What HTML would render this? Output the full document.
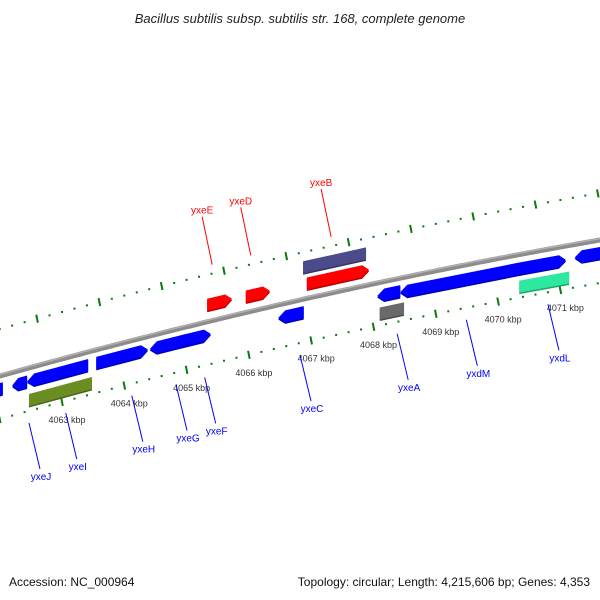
<!DOCTYPE html>
<html><head><meta charset="utf-8"><style>
html,body{margin:0;padding:0;background:#fff;}
svg{display:block;font-family:"Liberation Sans","DejaVu Sans",sans-serif;}
</style></head><body>
<svg id="map" width="600" height="600" viewBox="0 0 600 600" xmlns="http://www.w3.org/2000/svg">
<text x="300" y="23" text-anchor="middle" font-size="13" font-style="italic" fill="#222">Bacillus subtilis subsp. subtilis str. 168, complete genome</text>
<text x="9" y="586" font-size="12" fill="#111">Accession: NC_000964</text>
<text x="590" y="586" text-anchor="end" font-size="12" fill="#111">Topology: circular; Length: 4,215,606 bp; Genes: 4,353</text>
<g id="ticks"></g><g id="backbone"></g><g id="genes"></g><g id="labels"></g>
</svg>
<script>
const kbpTicks = [4062, 4063, 4064, 4065, 4066, 4067, 4068, 4069, 4070, 4071, 4072];
const kbpLabels = ["4062 kbp","4063 kbp","4064 kbp","4065 kbp","4066 kbp","4067 kbp","4068 kbp","4069 kbp","4070 kbp","4071 kbp","4072 kbp"];
const geneNames = ["yxeJ-part","yxeJ","yxeI","yxeH","yxeG","yxeF","yxeE","yxeD","yxeC","yxeB","yxeA","yxdM","yxdL","yxdK","yxdJ","misc1","misc2","misc3","misc4"];
const geneStart = [4061.9,4062.20,4062.44,4063.55,4064.41,4064.94,4065.33,4065.95,4066.47,4066.93,4068.06,4068.43,4070.32,4071.23,4071.8,4062.47,4066.87,4068.10,4070.34];
const geneEnd   = [4062.05,4062.44,4063.42,4064.38,4064.97,4065.39,4065.73,4066.34,4066.88,4067.93,4068.43,4070.32,4071.09,4071.64,4072.0,4063.48,4067.88,4068.49,4071.14];
const geneLane  = [13,13,13,13,13,13,-17,-16,13,-15,13,14,14,13,13,32,-32,31,32];
const geneDir   = [-1,-1,-1,1,-1,1,1,1,-1,1,-1,-1,1,-1,-1,0,0,0,0];
const geneColor = ["#0000ff","#0000ff","#0000ff","#0000ff","#0000ff","#0000ff","#ff0000","#ff0000","#0000ff","#ff0000","#0000ff","#0000ff","#0000ff","#0000ff","#0000ff","#6b8e23","#4b4b8b","#6a6a6a","#2ee8a0"];
const labelNames = ["yxeE","yxeD","yxeB","yxeJ","yxeI","yxeH","yxeG","yxeF","yxeC","yxeA","yxdM","yxdL"];
const labelKbp = [4065.41,4066.03,4067.32,4062.47,4063.06,4064.12,4064.83,4065.29,4066.82,4068.38,4069.49,4070.80];
const labelSide = [-1,-1,-1,1,1,1,1,1,1,1,1,1];
const labelColor = ["#ff0000","#ff0000","#ff0000","#0000ff","#0000ff","#0000ff","#0000ff","#0000ff","#0000ff","#0000ff","#0000ff","#0000ff"];

const NS="http://www.w3.org/2000/svg";
function X(k){return 62+(k-4063)*62.3;}
function Yb(x){return 376-0.28*x+0.0000889*x*x;}
function mk(tag,attrs,parent){const e=document.createElementNS(NS,tag);for(const a in attrs)e.setAttribute(a,attrs[a]);parent.appendChild(e);return e;}

// backbone
const bb=document.getElementById('backbone');
let d="";for(let x=-5;x<=605;x+=5){d+=(x===-5?"M":"L")+x+","+Yb(x).toFixed(2)+" ";}
const bl=mk('path',{d:d,stroke:"#8c8c8c","stroke-width":5,fill:"none"},bb);


const bl2=mk('path',{d:d,stroke:"#b0b0b0","stroke-width":1.5,fill:"none",transform:"translate(0,-1.5)"},bb);



// ticks
const tg=document.getElementById('ticks');
function row(off,shift,nameP){
  for(let k=4061.0;k<=4073.0;k+=0.2){
    const kk=Math.round(k*10)/10;
    const x=X(kk+shift); if(x<-5||x>605)continue;
    const y=Yb(x)+off;
    const major=Math.abs(kk-Math.round(kk))<0.01;
    let e;
    if(major){e=mk('line',{x1:x-0.8,y1:y-4,x2:x+0.8,y2:y+4,stroke:"#0a7a0a","stroke-width":2},tg);}
    else{e=mk('rect',{x:x-1,y:y-1,width:2,height:2,fill:"#0a7a0a"},tg);}
    
    
  }
}
row(-47,-0.4,'upper');
row(43,0,'lower');
kbpTicks.forEach((k,i)=>{
  const x=X(k); if(x<0||x>600)return;
  const t=mk('text',{x:x+5,y:Yb(x)+43+21,"text-anchor":"middle","font-size":9,fill:"#333"},tg);
  t.textContent=kbpLabels[i];
  
  
});

// genes
const gg=document.getElementById('genes');
function shade(c,f){const n=parseInt(c.slice(1),16);let r=(n>>16)&255,g=(n>>8)&255,b=n&255;r=Math.round(r*f);g=Math.round(g*f);b=Math.round(b*f);return `rgb(${r},${g},${b})`;}
geneNames.forEach((nm,i)=>{
  const x1=X(geneStart[i]),x2=X(geneEnd[i]),off=geneLane[i],dir=geneDir[i];
  const h=12,a=Math.min(7,(x2-x1)*0.4);
  const y=x=>Yb(x)+off;
  let pts;
  if(dir>0){pts=[[x1,y(x1)-h/2],[x2-a,y(x2-a)-h/2],[x2,y(x2)],[x2-a,y(x2-a)+h/2],[x1,y(x1)+h/2]];}
  else if(dir<0){pts=[[x1,y(x1)],[x1+a,y(x1+a)-h/2],[x2,y(x2)-h/2],[x2,y(x2)+h/2],[x1+a,y(x1+a)+h/2]];}
  else{pts=[[x1,y(x1)-h/2],[x2,y(x2)-h/2],[x2,y(x2)+h/2],[x1,y(x1)+h/2]];}
  const g=mk('g',{},gg);
  
  
  mk('polygon',{points:pts.map(p=>p.join(",")).join(" "),fill:shade(geneColor[i],0.7),transform:"translate(0,1.5)"},g);
  mk('polygon',{points:pts.map(p=>p.join(",")).join(" "),fill:geneColor[i]},g);
});

// labels
const lg=document.getElementById('labels');
labelNames.forEach((nm,i)=>{
  const x=X(labelKbp[i]);const c=labelColor[i];
  const g=mk('g',{},lg);
  
  
  if(labelSide[i]<0){
    const yEnd=Yb(x)-47+9-18, yS=yEnd-48;
    mk('line',{x1:x-10,y1:yS,x2:x,y2:yEnd,stroke:c,"stroke-width":1},g);
    const t=mk('text',{x:x-10,y:yS-3,"text-anchor":"middle","font-size":10,fill:c},g);t.textContent=nm;
  }else{
    const yS=Yb(x)+43+12, yE=yS+46;
    mk('line',{x1:x,y1:yS,x2:x+11,y2:yE,stroke:c,"stroke-width":1},g);
    const t=mk('text',{x:x+12,y:yE+11,"text-anchor":"middle","font-size":10,fill:c},g);t.textContent=nm;
  }
});
</script>
</body></html>
